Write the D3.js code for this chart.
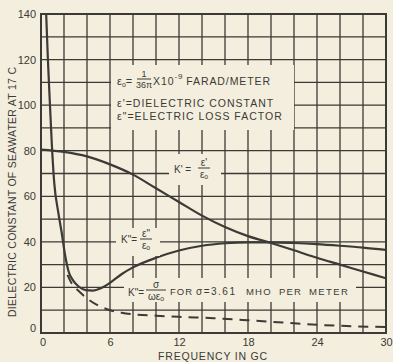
<!DOCTYPE html>
<html>
<head>
<meta charset="utf-8">
<script src="https://cdn.jsdelivr.net/npm/d3@7"></script>
<style>
  body { margin: 0; background: #f3eedd; }
  svg { display: block; }
  text { font-family: "Liberation Sans", "DejaVu Sans", sans-serif; fill: #3b3a36; }
</style>
</head>
<body>
<div id="chart"></div>
<script>
// values
var xTicks = [0, 6, 12, 18, 24, 30];
var yTicks = [0, 20, 40, 60, 80, 100, 120, 140];

// K' = e'/e0  (dielectric constant)
var kPrimeFreq = [0, 2, 4, 6, 8, 10, 12, 14, 16, 18, 20, 22, 24, 26, 28, 30];
var kPrimeVal  = [80.5, 79.5, 77.5, 74, 69.5, 63.5, 57.5, 51.5, 46.5, 42.5, 39.5, 36.3, 33, 30, 27, 24];

// K'' = e''/e0  (loss factor)
var kDoubleFreq = [0.45, 0.6, 0.78, 0.95, 1.15, 1.5, 1.8, 2.1, 2.4, 2.8, 3.3, 3.9, 4.5, 5.2, 6, 7, 8, 10, 12, 14, 16, 18, 20, 22, 24, 26, 28, 30];
var kDoubleVal  = [140, 120, 100, 82, 66, 53, 44, 34, 27, 23, 20.3, 18.8, 18.6, 19.6, 22, 25.8, 28.8, 33, 36.2, 38.3, 39.4, 39.8, 39.8, 39.5, 39, 38.3, 37.5, 36.5];

// K'' = sigma/(omega e0) for sigma = 3.61 mho per meter (dashed)
var condFreq = [2.3, 2.7, 3.3, 4, 5, 6, 7, 8, 10, 12, 15, 18, 21, 24, 27, 30];
var condVal  = [25.5, 21.5, 18.3, 15.2, 12, 10, 8.9, 8.2, 7.6, 7.1, 6.5, 5.6, 4.6, 3.6, 3, 2.6];

var ink = "#3b3a36", paper = "#f3eedd";

var margin = { top: 14, left: 41, right: 7, bottom: 29 },
    width = 393 - margin.left - margin.right,
    height = 362 - margin.top - margin.bottom;

var svg = d3.select("#chart")
    .append("svg")
    .attr("width", 393)
    .attr("height", 362)
    .append("g")
    .attr("transform", "translate(" + margin.left + "," + margin.top + ")");

var x = d3.scaleLinear().domain([0, 30]).range([0, width]);
var y = d3.scaleLinear().domain([0, 140]).range([height, 0]);

// grid - every 2 GC and every 10 units
svg.selectAll(".vgrid")
    .data(d3.range(0, 31, 2))
    .enter().append("line")
    .attr("x1", d => x(d)).attr("x2", d => x(d))
    .attr("y1", 0).attr("y2", height)
    .attr("stroke", ink).attr("stroke-width", 1.3);

svg.selectAll(".hgrid")
    .data(d3.range(0, 141, 10))
    .enter().append("line")
    .attr("x1", 0).attr("x2", width)
    .attr("y1", d => y(d)).attr("y2", d => y(d))
    .attr("stroke", ink).attr("stroke-width", 1.3);

svg.append("rect")
    .attr("width", width).attr("height", height)
    .attr("fill", "none").attr("stroke", ink).attr("stroke-width", 2);

// axes (labels only)
var yAxis = svg.append("g")
    .call(d3.axisLeft(y).tickValues(yTicks).tickSize(0).tickPadding(5).tickFormat(d3.format("d")));
yAxis.select(".domain").remove();
yAxis.selectAll("text").attr("font-size", 11).attr("fill", ink).style("font-family", "Liberation Sans, sans-serif");
yAxis.selectAll(".tick").filter(d => d === 0).select("text").attr("dy", "-0.1em");

var xAxis = svg.append("g")
    .attr("transform", "translate(0," + height + ")")
    .call(d3.axisBottom(x).tickValues(xTicks).tickSize(0).tickPadding(5).tickFormat(d3.format("d")));
xAxis.select(".domain").remove();
xAxis.selectAll("text").attr("font-size", 11).attr("fill", ink).style("font-family", "Liberation Sans, sans-serif");
xAxis.selectAll(".tick").filter(d => d === 0).select("text").attr("dx", "0.15em");

// curves
svg.append("clipPath").attr("id", "plot")
    .append("rect").attr("width", width).attr("height", height);

var line = d3.line()
    .x(d => x(d[0]))
    .y(d => y(d[1]))
    .curve(d3.curveMonotoneX);

var curves = svg.append("g").attr("clip-path", "url(#plot)");

curves.append("path")
    .attr("d", line(d3.zip(kPrimeFreq, kPrimeVal)))
    .attr("fill", "none").attr("stroke", ink).attr("stroke-width", 2.2);

curves.append("path")
    .attr("d", line(d3.zip(kDoubleFreq, kDoubleVal)))
    .attr("fill", "none").attr("stroke", ink).attr("stroke-width", 2.2);

curves.append("path")
    .attr("d", line(d3.zip(condFreq, condVal)))
    .attr("fill", "none").attr("stroke", ink).attr("stroke-width", 2)
    .attr("stroke-dasharray", "10,7");

// label boxes knock out the grid
function knock(x0, y0, x1, y1) {
    svg.append("rect")
        .attr("x", x0 - margin.left).attr("y", y0 - margin.top)
        .attr("width", x1 - x0).attr("height", y1 - y0)
        .attr("fill", paper);
}
knock(111, 65, 294, 130);
knock(169, 154, 221, 185);
knock(116, 228, 160, 256);
knock(124, 278, 356, 302);

// page-coordinate text layer
var page = d3.select("svg").append("g");
function txt(px, py, s, size, anchor) {
    return page.append("text").attr("x", px).attr("y", py)
        .attr("font-size", size || 10).attr("text-anchor", anchor || "start").text(s);
}
function frac(cx, barY, top, bottom, w, size) {
    page.append("line").attr("x1", cx - w / 2).attr("x2", cx + w / 2)
        .attr("y1", barY).attr("y2", barY).attr("stroke", ink).attr("stroke-width", 1);
    txt(cx, barY - 2, top, size, "middle");
    txt(cx, barY + size, bottom, size, "middle");
}

// definitions box
var e0 = txt(117, 85, "", 11);
e0.append("tspan").text("\u03b5");
e0.append("tspan").attr("font-size", 7).attr("dy", 2).text("o");
e0.append("tspan").attr("dy", -2).text("=");
frac(144, 79, "1", "36\u03c0", 14, 9);
var e0b = txt(153, 85, "", 10.5).attr("letter-spacing", 0.9);
e0b.append("tspan").text("X10");
e0b.append("tspan").attr("font-size", 8).attr("dy", -6).text("-9");
e0b.append("tspan").attr("dy", 6).attr("dx", 3).text("FARAD/METER");
txt(117, 107, "\u03b5'=DIELECTRIC CONSTANT", 10.5).attr("letter-spacing", 1);
txt(117, 120, "\u03b5\"=ELECTRIC LOSS FACTOR", 10.5).attr("letter-spacing", 1);

// K' label
txt(174, 173, "K' =", 10);
frac(204, 168, "\u03b5'", "\u03b5\u2092", 12, 10);

// K'' label
txt(121, 243, "K\"=", 10);
frac(146, 239, "\u03b5\"", "\u03b5\u2092", 12, 10);

// conductivity label
txt(128, 296, "K\"=", 10);
frac(156, 290, "\u03c3", "\u03c9\u03b5\u2092", 20, 10);
txt(170, 295, "FOR", 9.5).attr("letter-spacing", 1);
txt(196, 295, "\u03c3=3.61", 10).attr("letter-spacing", 1.5);
txt(246, 295, "MHO", 9.5).attr("letter-spacing", 1.2);
txt(279, 295, "PER", 9.5).attr("letter-spacing", 1.2);
txt(309, 295, "METER", 9.5).attr("letter-spacing", 1.4);

// axis titles
txt(213, 360, "FREQUENCY IN GC", 10.5, "middle").attr("letter-spacing", 0.8);
page.append("text")
    .attr("transform", "translate(16,192) rotate(-90)")
    .attr("text-anchor", "middle")
    .attr("font-size", 10.5)
    .attr("textLength", 250)
    .text("DIELECTRIC CONSTANT OF SEAWATER AT 17 C");
</script>
</body>
</html>
